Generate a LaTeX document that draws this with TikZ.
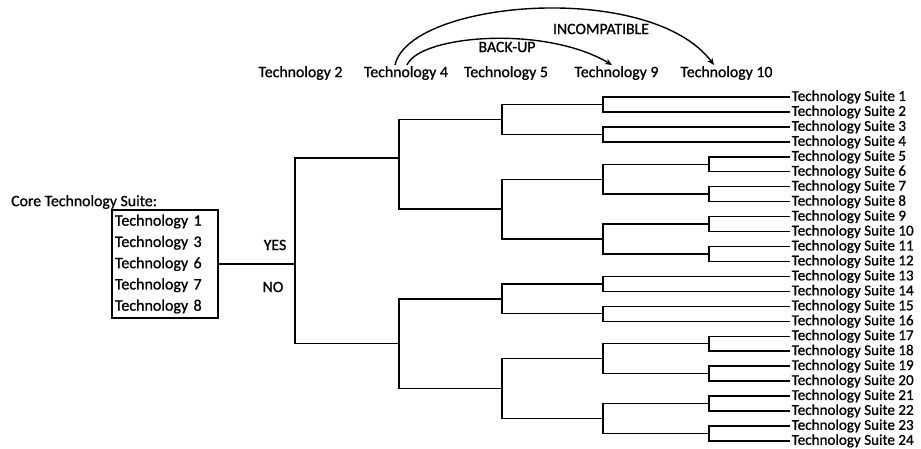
\documentclass[tikz,border=0pt]{standalone}
\usepackage{fontspec}
\setmainfont{Carlito}[FakeBold=1.0]
\usetikzlibrary{arrows.meta,calc}
\begin{document}
\begin{tikzpicture}[x=1pt,y=-1pt,
  tree/.style={line width=1.4pt},
  lbl/.style={font=\fontsize{15.8}{16}\selectfont, inner sep=1pt},
  leaf/.style={font=\fontsize{15.1}{15}\selectfont, inner sep=1.5pt, anchor=west},
  relarc/.style={line width=1.4pt, -{Stealth[length=7pt,width=6pt]}},
  boxstyle/.style={draw, line width=1.7pt, align=left, font=\fontsize{16}{21.25}\selectfont,
     minimum width=106pt, minimum height=108pt, text width=100pt, inner xsep=3pt, inner ysep=2pt}]
\useasboundingbox (0,0) rectangle (921,448);

% top technologies
\node[lbl] (t2) at (300.5,73) {Technology 2};
\node[lbl] (t4) at (406,73) {Technology 4};
\node[lbl] (t5) at (506,73) {Technology 5};
\node[lbl] (t9) at (616.5,73) {Technology 9};
\node[lbl] (t10) at (726.5,73) {Technology 10};
\node[lbl] (inc) at (601,29) {INCOMPATIBLE};
\node[lbl] (bak) at (507,47) {BACK-UP};
\draw[relarc] ([xshift=-11pt]t4.north) .. controls (410,0) and (650,-20) .. ([xshift=-12.5pt]t10.north);
\draw[relarc] ([xshift=1pt]t4.north) .. controls (420,35) and (545,25) .. ([xshift=-4.5pt]t9.north);

% core suite
\node[lbl, anchor=west] (core) at (10,202) {Core Technology Suite:};
\node[boxstyle] (box) at (165,264) {Technology 1\\Technology 3\\Technology 6\\Technology 7\\Technology 8};
\node[lbl] (yes) at (275,245) {YES};
\node[lbl] (no) at (273,287) {NO};

% leaves
\foreach \i in {1,...,24} {
  \pgfmathsetmacro\yy{97+(\i-1)*14.95}
  \node[leaf] (s\i) at (790,\yy) {Technology Suite \i};
}

% junctions
\coordinate (a12) at (603,104.475);
\coordinate (a34) at (603,134.375);
\coordinate (a56) at (709,164.275);
\coordinate (a78) at (709,194.175);
\coordinate (a910) at (709,224.075);
\coordinate (a1112) at (709,253.975);
\coordinate (a1314) at (603,283.875);
\coordinate (a1516) at (603,313.775);
\coordinate (a1718) at (709,343.675);
\coordinate (a1920) at (709,373.575);
\coordinate (a2122) at (709,403.475);
\coordinate (a2324) at (709,433.375);
\coordinate (b14) at (502,119.425);
\coordinate (b58) at (603,179.225);
\coordinate (b912) at (603,239.025);
\coordinate (b1316) at (502,298.825);
\coordinate (b1720) at (603,358.625);
\coordinate (b2124) at (603,418.425);
\coordinate (c512) at (502,209.125);
\coordinate (c1724) at (502,388.525);
\coordinate (d1) at (399,158);
\coordinate (d2) at (399,343.675);
\coordinate (root) at (295,264);

\draw[tree] (box.east) -- (root);
\draw[tree] (root) |- (d1) (root) |- (d2);
\foreach \p/\a/\b in {d1/b14/c512, d2/b1316/c1724, b14/a12/a34, c512/b58/b912,
   b58/a56/a78, b912/a910/a1112, b1316/a1314/a1516, c1724/b1720/b2124,
   b1720/a1718/a1920, b2124/a2122/a2324}
  \draw[tree] (\p) |- (\a) (\p) |- (\b);
\foreach \p/\a/\b in {a12/1/2, a34/3/4, a56/5/6, a78/7/8, a910/9/10, a1112/11/12,
   a1314/13/14, a1516/15/16, a1718/17/18, a1920/19/20, a2122/21/22, a2324/23/24}
  \draw[tree] (\p) |- (s\a.west) (\p) |- (s\b.west);
\end{tikzpicture}
\end{document}
